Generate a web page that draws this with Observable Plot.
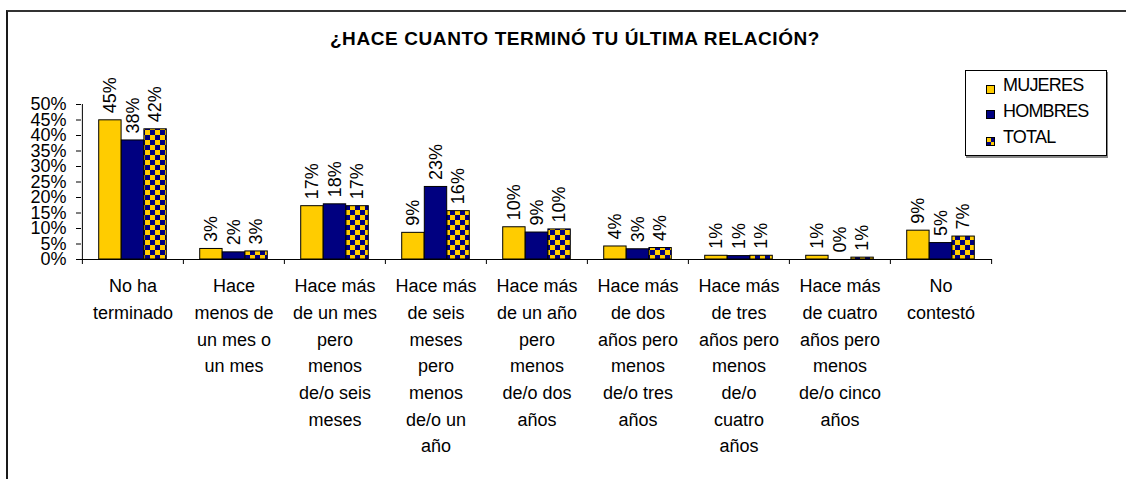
<!DOCTYPE html>
<html><head><meta charset="utf-8">
<script src="https://cdn.jsdelivr.net/npm/d3@7"></script>
<script src="https://cdn.jsdelivr.net/npm/@observablehq/plot@0.6"></script>
<style>
body{margin:0;background:#fff;}
#wrap{position:relative;width:1126px;height:479px;overflow:hidden;font-family:"Liberation Sans",Arial,sans-serif;color:#000;}
#border{position:absolute;left:6px;top:10px;width:1300px;height:700px;border-left:2px solid #1a1a1a;border-top:2px solid #333;}
#chart{position:absolute;left:0;top:0;}
#title{position:absolute;left:0;width:1150px;top:29px;text-align:center;font-weight:bold;font-size:19px;line-height:19px;letter-spacing:0.6px;}
#legend{position:absolute;left:965px;top:70px;width:140px;height:84px;border:1px solid #000;background:#fff;box-shadow:1px 2px 0 #888;}
.sw{position:absolute;left:20px;width:7px;height:7px;border:1px solid #000;}
.lt{position:absolute;left:37px;font-size:18px;line-height:18px;letter-spacing:-0.8px;white-space:nowrap;}
</style></head>
<body>
<div id="wrap">
  <div id="border"></div>
  <div id="chart"></div>
  <div id="title"></div>
  <div id="legend"></div>
</div>
<script>
const title = "¿HACE CUANTO TERMINÓ TU ÚLTIMA RELACIÓN?";
const categories = [
  "No ha\nterminado",
  "Hace\nmenos de\nun mes o\nun mes",
  "Hace más\nde un mes\npero\nmenos\nde/o seis\nmeses",
  "Hace más\nde seis\nmeses\npero\nmenos\nde/o un\naño",
  "Hace más\nde un año\npero\nmenos\nde/o dos\naños",
  "Hace más\nde dos\naños pero\nmenos\nde/o tres\naños",
  "Hace más\nde tres\naños pero\nmenos\nde/o\ncuatro\naños",
  "Hace más\nde cuatro\naños pero\nmenos\nde/o cinco\naños",
  "No\ncontestó"
];
const series = ["MUJERES", "HOMBRES", "TOTAL"];
const mujeres = [44.9, 3.4, 17.2, 8.6, 10.4, 4.2, 1.2, 1.2, 9.3];
const hombres = [38.4, 2.3, 17.8, 23.4, 8.7, 3.3, 1.1, 0, 5.3];
const total   = [42.0, 2.6, 17.2, 15.6, 9.7, 3.7, 1.2, 0.6, 7.4];
const yTicks = [0, 5, 10, 15, 20, 25, 30, 35, 40, 45, 50];

const values = [mujeres, hombres, total];
const yellow = "#FFCC00", navy = "#000080";
const fills = [yellow, navy, "url(#checker)"];

const data = [];
series.forEach((s, k) => categories.forEach((c, i) => data.push({category: c, series: s, value: values[k][i]})));

const W = 1126, H = 479, mL = 81, mR = 134, mT = 104, mB = 220;
const step = (W - mL - mR) / categories.length;
const bw = 22.6;
const start = (step - 3 * bw) / 2;

const marks = [];
series.forEach((s, k) => {
  const rows = data.filter(d => d.series === s);
  marks.push(Plot.barY(rows, {
    x: "category", y: "value", fill: fills[k], stroke: "#000", strokeWidth: 1,
    insetLeft: start + k * bw, insetRight: step - start - (k + 1) * bw
  }));
  marks.push(Plot.text(rows, {
    x: "category", y: "value", text: d => Math.round(d.value) + "%",
    rotate: -90, textAnchor: "start", dx: (k - 1) * bw, dy: -7, fontSize: 18
  }));
});

const chart = Plot.plot({
  width: W, height: H,
  marginLeft: mL, marginRight: mR, marginTop: mT, marginBottom: mB,
  style: {fontFamily: "'Liberation Sans', Arial, sans-serif", background: "transparent", color: "#000", overflow: "visible"},
  x: {domain: categories, type: "band", paddingInner: 0, paddingOuter: 0, axis: null},
  y: {domain: [0, 50], label: null},
  marks: [
    Plot.axisY({ticks: yTicks, tickFormat: d => d + "%", tickSize: 5, tickPadding: 10, fontSize: 18, stroke: "#000", label: null}),
    ...marks,
    Plot.ruleY([0], {stroke: "#000"}),
    Plot.ruleX([categories[0]], {x: d => d, dx: -step / 2, stroke: "#000"}),
    Plot.ruleX(categories, {x: d => d, y1: 0, y2: 0, insetTop: 5, dx: -step / 2, stroke: "#000"}),
    Plot.ruleX([categories[categories.length - 1]], {x: d => d, y1: 0, y2: 0, insetTop: 5, dx: step / 2, stroke: "#000"}),
    Plot.text(categories, {x: d => d, frameAnchor: "bottom", lineAnchor: "top", dy: 14, fontSize: 18, lineHeight: 1.48})
  ]
});

const defs = d3.select(chart).insert("defs", ":first-child");
const p = defs.append("pattern").attr("id", "checker").attr("patternUnits", "userSpaceOnUse").attr("width", 10).attr("height", 10);
p.append("rect").attr("width", 10).attr("height", 10).attr("fill", yellow);
p.append("rect").attr("width", 5).attr("height", 5).attr("fill", navy);
p.append("rect").attr("x", 5).attr("y", 5).attr("width", 5).attr("height", 5).attr("fill", navy);

document.getElementById("chart").appendChild(chart);
document.getElementById("title").textContent = title;

const legend = document.getElementById("legend");
const swTops = [14, 39, 66], txTops = [4.5, 31, 57];
series.forEach((s, k) => {
  const sw = document.createElement("div");
  sw.className = "sw";
  sw.style.top = swTops[k] + "px";
  sw.style.background = k === 2 ? `repeating-conic-gradient(${navy} 0 25%, ${yellow} 0 50%) 0 0/8px 8px` : fills[k];
  legend.appendChild(sw);
  const t = document.createElement("div");
  t.className = "lt";
  t.style.top = txTops[k] + "px";
  t.textContent = s;
  legend.appendChild(t);
});
</script>
</body></html>
